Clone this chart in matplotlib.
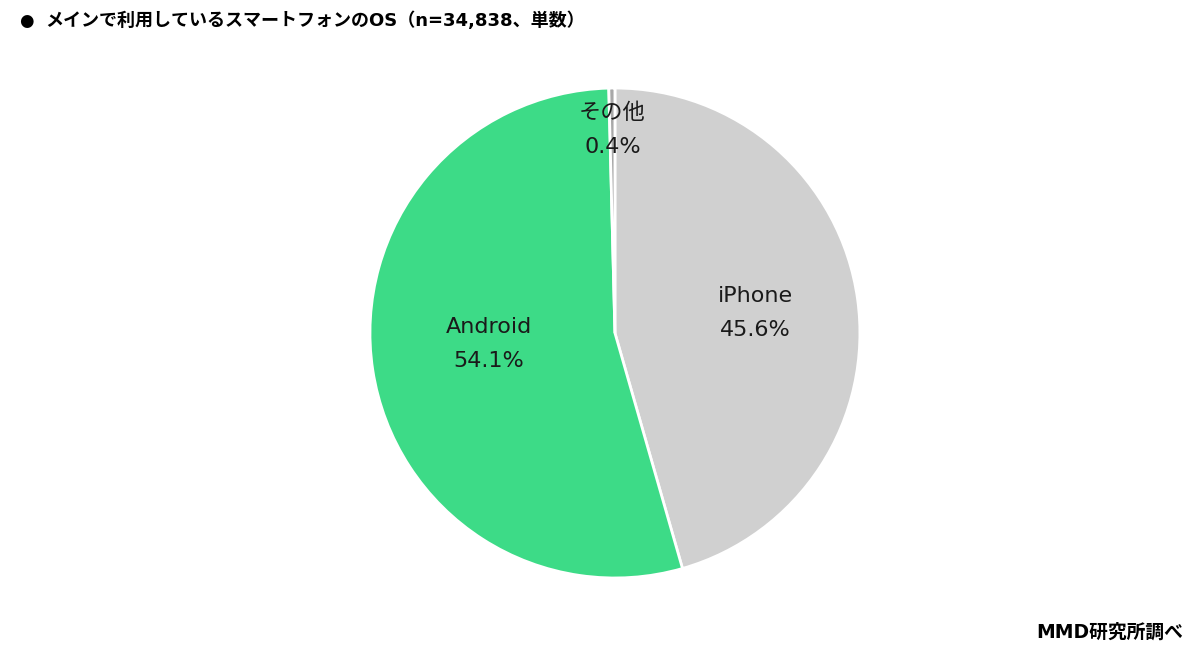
import matplotlib
matplotlib.use("Agg")
import matplotlib.pyplot as plt
import numpy as np

plt.rcParams['font.family'] = ['DejaVu Sans', 'Noto Sans CJK JP']

labels = ['iPhone', 'Android', 'その他']
values = [45.6, 54.1, 0.4]
colors = ['#d0d0d0', '#3ddb87', '#a8a8a8']
# label distance from centre (fraction of radius) and small vertical nudge
label_r = [0.58, 0.52, 0.83]
label_dy = [0.0, 0.035, 0.0]

fig = plt.figure(figsize=(12, 6.52), dpi=100)
ax = fig.add_axes([0.3083, 0.1135, 0.4083, 0.7515])

wedges, _ = ax.pie(values, colors=colors, startangle=90, counterclock=False,
                   radius=1.0, wedgeprops=dict(edgecolor='white', linewidth=2))

for w, lab, v, r, dy in zip(wedges, labels, values, label_r, label_dy):
    ang = np.deg2rad((w.theta1 + w.theta2) / 2)
    x, y = r * np.cos(ang), r * np.sin(ang) + dy
    ax.text(x, y, f"{lab}\n{v:.1f}%", ha='center', va='center',
            fontsize=16, linespacing=1.9, color='#1a1a1a')

ax.set_xlim(-1, 1)
ax.set_ylim(-1, 1)
ax.set_aspect('equal')
ax.axis('off')

fig.text(0.016, 0.968, '●', fontsize=12, va='center', ha='left')
fig.text(0.038, 0.968, 'メインで利用しているスマートフォンのOS（n=34,838、単数）',
         fontsize=13, fontweight='bold', va='center', ha='left')
fig.text(0.986, 0.03, 'MMD研究所調べ', fontsize=13.5, fontweight='bold',
         va='center', ha='right')

fig.savefig('out.png', dpi=100)
